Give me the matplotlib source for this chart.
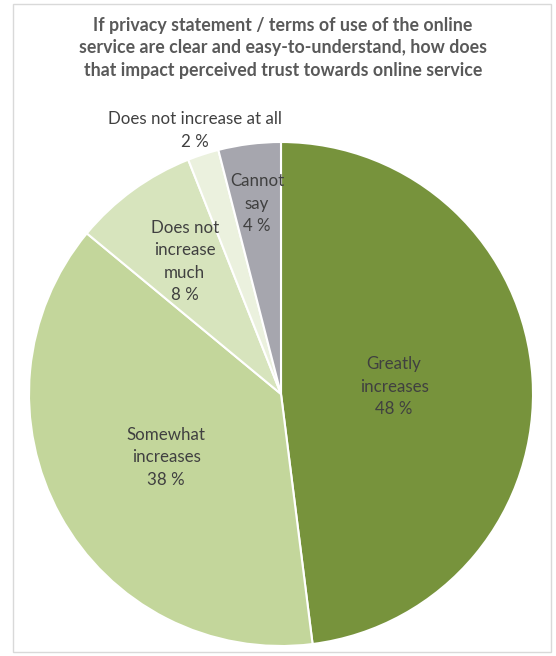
import numpy as np
import matplotlib
matplotlib.use("Agg")
import matplotlib.pyplot as plt
from matplotlib.patches import Rectangle

# survey answers, clockwise from 12 o'clock
categories = ["Greatly\nincreases", "Somewhat\nincreases", "Does not\nincrease\nmuch",
              "Does not increase at all", "Cannot\nsay"]
shares = [48, 38, 8, 2, 4]
colors = ["#77933c", "#c3d69b", "#d7e4bd", "#ebf1de", "#a6a6ae"]
# radial position of each label, as a fraction of the radius
label_r = [0.45, 0.52, 0.65, 1.10, 0.76]

title = ("If privacy statement / terms of use of the online\n"
         "service are clear and easy-to-understand, how does\n"
         "that impact perceived trust towards online service")

plt.rcParams['font.family'] = ['Lato', 'DejaVu Sans']

W, H = 556, 656
fig = plt.figure(figsize=(W / 100, H / 100), dpi=100)
fig.patch.set_facecolor("white")

# thin grey frame round the chart area
fig.add_artist(Rectangle((13 / W, 4 / H), 538 / W, 648 / H, transform=fig.transFigure,
                         fill=False, edgecolor="#d9d9d9", linewidth=1))

cx, cy, R = 281, 394, 252
ax = fig.add_axes([(cx - R) / W, (H - cy - R) / H, 2 * R / W, 2 * R / H])
wedges, _ = ax.pie(shares, colors=colors, startangle=90, counterclock=False,
                   radius=1, wedgeprops=dict(edgecolor="white", linewidth=1.5))
ax.set_xlim(-1, 1)
ax.set_ylim(-1, 1)
ax.set_aspect("equal")
ax.axis("off")

for w, name, val, r in zip(wedges, categories, shares, label_r):
    mid = np.deg2rad((w.theta1 + w.theta2) / 2)
    ax.text(r * np.cos(mid), r * np.sin(mid), f"{name}\n{val} %",
            ha="center", va="center", fontsize=12.2, color="#404040",
            linespacing=1.5, clip_on=False)

fig.text(283 / W, 1 - 48 / H, title, ha="center", va="center", fontsize=12.8,
         fontweight="bold", color="#595959", linespacing=1.42)

fig.savefig("out.png", dpi=100, facecolor="white")
